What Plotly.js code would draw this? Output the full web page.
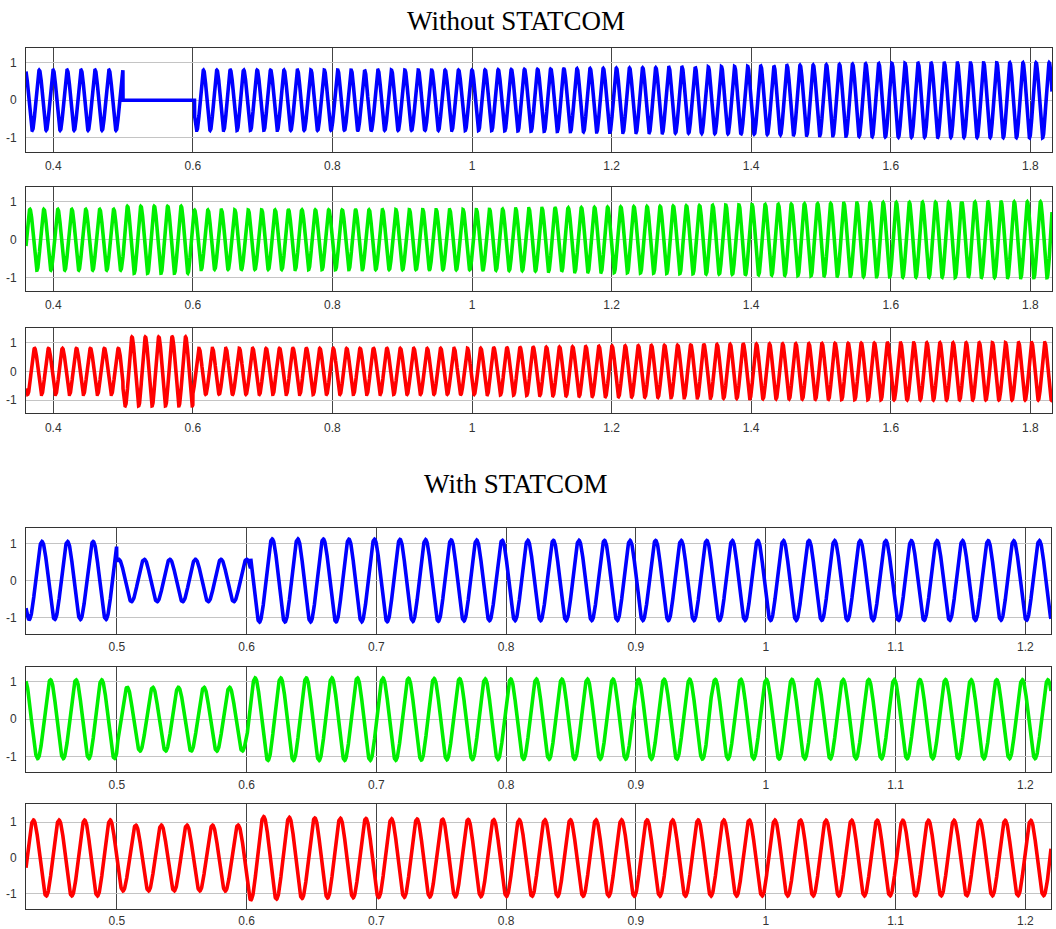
<!DOCTYPE html>
<html>
<head>
<meta charset="utf-8">
<script src="https://cdn.plot.ly/plotly-3.0.1.min.js"></script>
<style>
html,body{margin:0;padding:0;background:#fff;}
#chart{width:1056px;height:929px;}
</style>
</head>
<body>
<div id="chart"></div>
<script>
// ---------------- DATA ----------------
// Panel titles
const titleTop = "Without STATCOM";
const titleBottom = "With STATCOM";

// Time windows (s)
const topTimeRange = [0.361, 1.831];
const bottomTimeRange = [0.43, 1.2198];

// Tick labels
const topTickVals = [0.4, 0.6, 0.8, 1.0, 1.2, 1.4, 1.6, 1.8];
const topTickText = ["0.4", "0.6", "0.8", "1", "1.2", "1.4", "1.6", "1.8"];
const bottomTickVals = [0.5, 0.6, 0.7, 0.8, 0.9, 1.0, 1.1, 1.2];
const bottomTickText = ["0.5", "0.6", "0.7", "0.8", "0.9", "1", "1.1", "1.2"];
const yTickVals = [-1, 0, 1];
const yTickText = ["-1", "0", "1"];

// Phase-A peak times (s) and the cycle count at each
const topPeakTimes = [0.40, 0.50, 0.6153, 1.0, 1.395, 1.827];
const topPeakCycles = [0, 5, 11, 31, 52, 75];
const bottomPeakTimes = [0.4423, 0.6197, 1.0136, 1.2108];
const bottomPeakCycles = [0, 9, 29, 39];

// Peak-amplitude envelopes (pu): times and values
// Without STATCOM
const topA_t = [0.36, 0.4999, 0.5, 0.6025, 0.6026, 1.0, 1.2, 1.4, 1.6, 1.84];
const topA_v = [0.80, 0.80, 0.0, 0.0, 0.80, 0.80, 0.85, 0.90, 0.98, 1.00];
const topB_t = [0.36, 0.4999, 0.5, 0.6, 0.6001, 1.0, 1.2, 1.4, 1.6, 1.84];
const topB_v = [0.80, 0.80, 0.88, 0.88, 0.78, 0.79, 0.86, 0.92, 0.98, 1.00];
const topC_t = [0.36, 0.4999, 0.5, 0.6, 0.6001, 1.0, 1.2, 1.4, 1.6, 1.84];
const topC_v = [0.80, 0.80, 1.20, 1.20, 0.80, 0.80, 0.88, 0.95, 0.99, 1.00];
// With STATCOM
const botA_t = [0.42, 0.4999, 0.5, 0.603, 0.6031, 0.7, 0.8, 1.23];
const botA_v = [1.05, 1.05, 0.57, 0.57, 1.12, 1.11, 1.08, 1.07];
const botB_t = [0.42, 0.4999, 0.5, 0.6, 0.6001, 0.7, 0.8, 1.23];
const botB_v = [1.05, 1.05, 0.85, 0.85, 1.10, 1.10, 1.07, 1.05];
const botC_t = [0.42, 0.4999, 0.5, 0.6, 0.6001, 0.65, 0.7, 0.8, 1.23];
const botC_v = [1.06, 1.06, 0.92, 0.92, 1.17, 1.12, 1.10, 1.07, 1.05];

// Phase lag of each phase (fraction of a cycle)
const phaseLag = [0, 1/3, 2/3];
const phaseColors = ["#0000ff", "#00ee00", "#ff0000"];

// ---------------- helpers ----------------
function lin(ts, vs, t) {
  const n = ts.length;
  if (t <= ts[0]) {
    const s = (vs[1] - vs[0]) / (ts[1] - ts[0]);
    return vs[0] + s * (t - ts[0]);
  }
  if (t >= ts[n - 1]) {
    const s = (vs[n - 1] - vs[n - 2]) / (ts[n - 1] - ts[n - 2]);
    return vs[n - 1] + s * (t - ts[n - 1]);
  }
  for (let i = 0; i < n - 1; i++) {
    if (t >= ts[i] && t <= ts[i + 1]) {
      return vs[i] + (vs[i + 1] - vs[i]) * (t - ts[i]) / (ts[i + 1] - ts[i]);
    }
  }
  return vs[n - 1];
}
function waveform(range, peakT, peakC, envT, envV, lag) {
  const x = [], y = [];
  const dt = 0.0002;
  for (let t = range[0]; t <= range[1] + 1e-9; t += dt) {
    const cyc = lin(peakT, peakC, t) - lag;
    const a = Math.max(0, lin(envT, envV, t));
    x.push(t);
    y.push(a * Math.cos(2 * Math.PI * cyc));
  }
  return {x, y};
}

const panels = [
  {range: topTimeRange, pt: topPeakTimes, pc: topPeakCycles, et: topA_t, ev: topA_v, lag: phaseLag[0], col: phaseColors[0], top: 48.3, bot: 151.7, yr: [-1.37, 1.38], tv: topTickVals, tt: topTickText, xr: [26, 1052], so: 3},
  {range: topTimeRange, pt: topPeakTimes, pc: topPeakCycles, et: topB_t, ev: topB_v, lag: phaseLag[1], col: phaseColors[1], top: 187.3, bot: 291, yr: [-1.35, 1.38], tv: topTickVals, tt: topTickText, xr: [26, 1052], so: 3},
  {range: topTimeRange, pt: topPeakTimes, pc: topPeakCycles, et: topC_t, ev: topC_v, lag: phaseLag[2], col: phaseColors[2], top: 328.3, bot: 413.3, yr: [-1.46, 1.5], tv: topTickVals, tt: topTickText, xr: [26, 1052], so: 3},
  {range: bottomTimeRange, pt: bottomPeakTimes, pc: bottomPeakCycles, et: botA_t, ev: botA_v, lag: phaseLag[0], col: phaseColors[0], top: 527.7, bot: 634, yr: [-1.44, 1.42], tv: bottomTickVals, tt: bottomTickText, xr: [26, 1051], so: 2},
  {range: bottomTimeRange, pt: bottomPeakTimes, pc: bottomPeakCycles, et: botB_t, ev: botB_v, lag: phaseLag[1], col: phaseColors[1], top: 666.7, bot: 771.7, yr: [-1.4, 1.4], tv: bottomTickVals, tt: bottomTickText, xr: [26, 1051], so: 2},
  {range: bottomTimeRange, pt: bottomPeakTimes, pc: bottomPeakCycles, et: botC_t, ev: botC_v, lag: phaseLag[2], col: phaseColors[2], top: 804.3, bot: 909.3, yr: [-1.43, 1.5], tv: bottomTickVals, tt: bottomTickText, xr: [26, 1051], so: 0}
];

const W = 1056, H = 929;
const traces = [];
const layout = {
  width: W, height: H,
  margin: {l: 0, r: 0, t: 0, b: 0},
  paper_bgcolor: "#ffffff",
  plot_bgcolor: "#ffffff",
  showlegend: false,
  font: {family: "Liberation Sans, Arial, sans-serif", size: 12, color: "#333"},
  annotations: [
    {text: titleTop, x: 516 / W, y: 1 - 21 / H, xref: "paper", yref: "paper", showarrow: false,
     font: {family: "Liberation Serif, Times New Roman, serif", size: 27, color: "#000"}, xanchor: "center", yanchor: "middle"},
    {text: titleBottom, x: 516 / W, y: 1 - 484 / H, xref: "paper", yref: "paper", showarrow: false,
     font: {family: "Liberation Serif, Times New Roman, serif", size: 27, color: "#000"}, xanchor: "center", yanchor: "middle"}
  ]
};

panels.forEach((p, i) => {
  const k = i + 1;
  const w = waveform(p.range, p.pt, p.pc, p.et, p.ev, p.lag);
  traces.push({
    type: "scatter", mode: "lines", x: w.x, y: w.y,
    xaxis: "x" + (k === 1 ? "" : k), yaxis: "y" + (k === 1 ? "" : k),
    line: {color: p.col, width: 3.6}, hoverinfo: "skip"
  });
  const xa = {
    domain: [p.xr[0] / W, p.xr[1] / W],
    range: p.range,
    anchor: "y" + (k === 1 ? "" : k),
    tickmode: "array", tickvals: p.tv, ticktext: p.tt,
    showgrid: true, gridcolor: "#444", gridwidth: 1,
    zeroline: false,
    showline: true, linecolor: "#333", linewidth: 1, mirror: true,
    ticks: "", ticklabelstandoff: p.so,
    tickfont: {size: 12, color: "#333"}
  };
  const ya = {
    domain: [1 - p.bot / H, 1 - p.top / H],
    range: p.yr,
    anchor: "x" + (k === 1 ? "" : k),
    tickmode: "array", tickvals: yTickVals, ticktext: yTickText,
    showgrid: true, gridcolor: "#c4c4c4", gridwidth: 1,
    zeroline: false,
    showline: true, linecolor: "#333", linewidth: 1, mirror: true,
    ticks: "", ticklabelstandoff: 6,
    tickfont: {size: 12, color: "#333"}
  };
  layout["xaxis" + (k === 1 ? "" : k)] = xa;
  layout["yaxis" + (k === 1 ? "" : k)] = ya;
});

Plotly.newPlot("chart", traces, layout, {displayModeBar: false, staticPlot: true});
</script>
</body>
</html>
